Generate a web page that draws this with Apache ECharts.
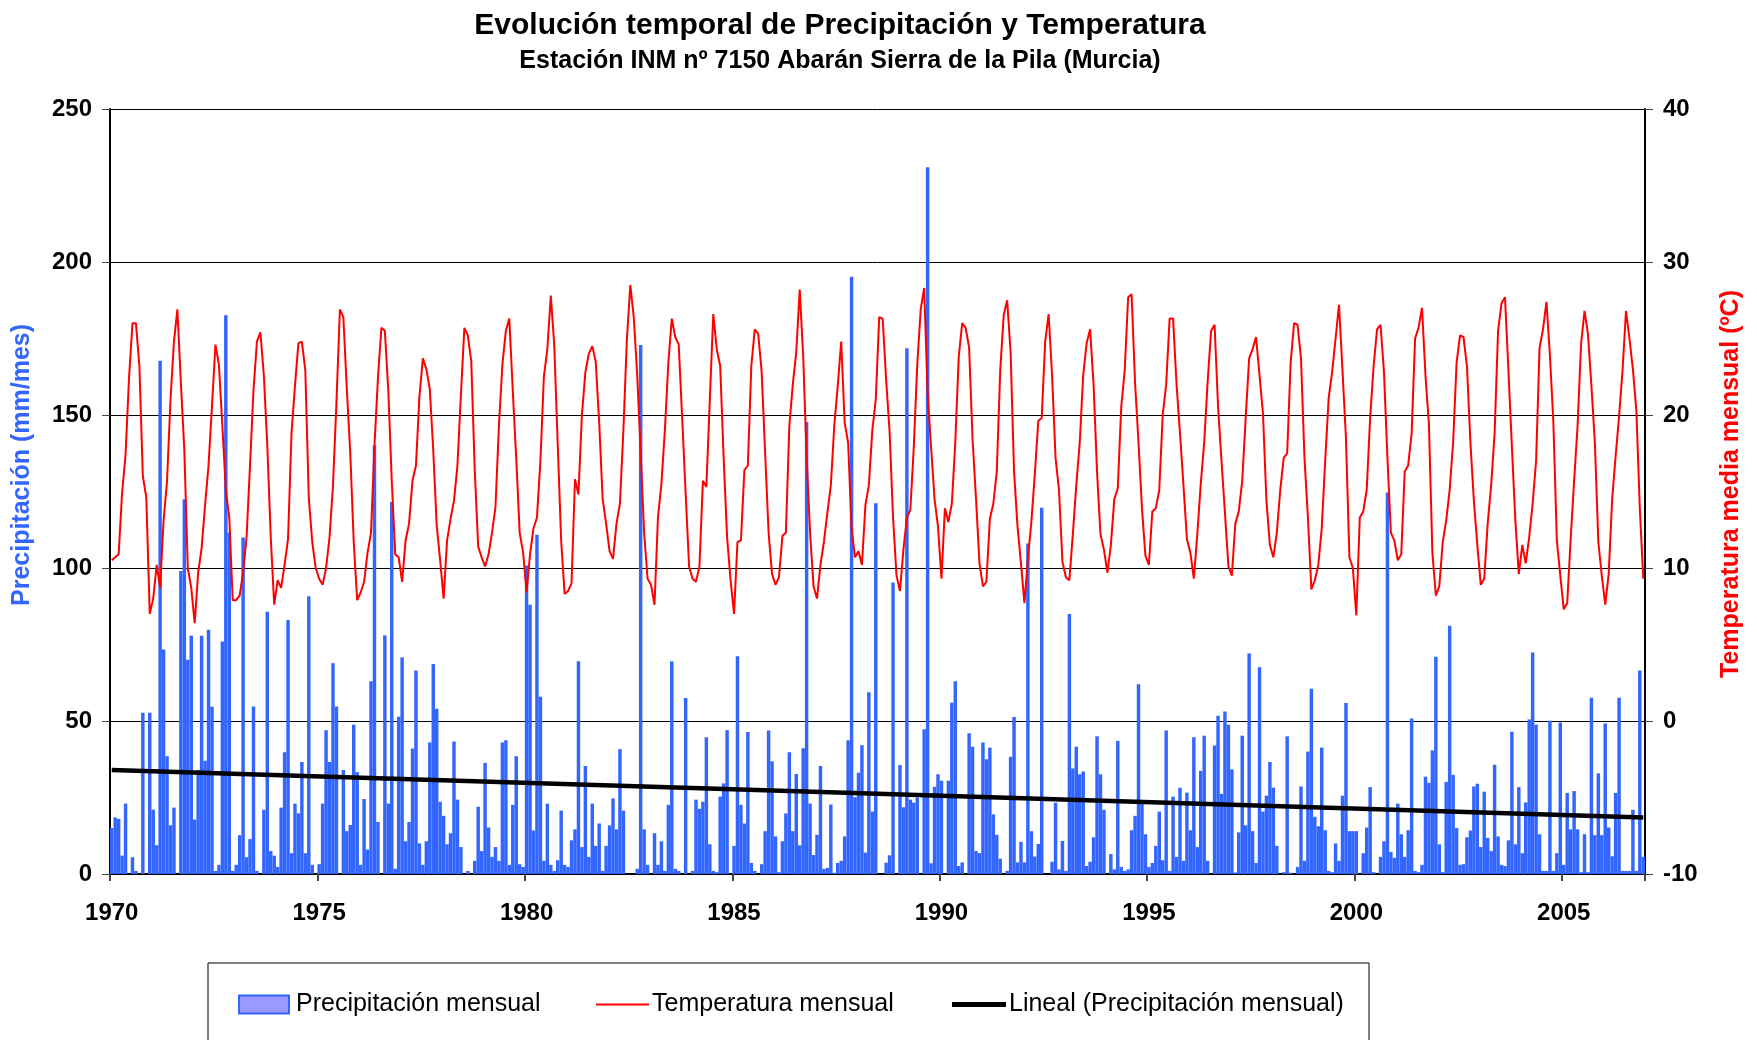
<!DOCTYPE html>
<html>
<head>
<meta charset="utf-8">
<script src="https://cdn.jsdelivr.net/npm/echarts@6/dist/echarts.min.js"></script>
<style>html,body{margin:0;padding:0;background:#fff}#chart{width:1757px;height:1040px}</style>
</head>
<body>
<div id="chart"></div>
<script>
// ---------------- DATA ----------------
const startYear = 1970;
const yearTickLabels = ['1970', '1975', '1980', '1985', '1990', '1995', '2000', '2005'];

// Monthly precipitation (mm/mes), Jan..Dec per row
const precip1970s = [
  15, 18.5, 18, 6, 23, 0, 5.5, 1, 0, 52.7, 0, 52.7,
  21, 9.4, 167.7, 73.4, 38.5, 15.9, 21.7, 0, 99, 122.5, 70, 77.9,
  17.8, 34, 77.9, 37, 79.8, 54.7, 1, 3, 76, 182.6, 111.5, 1,
  3, 12.7, 110, 5.5, 11.4, 54.7, 1, 0, 21, 85.7, 7.5, 6,
  2.3, 21.7, 39.8, 83, 6.8, 23, 19.8, 36.6, 6.8, 90.8, 3, 0,
  3.2, 23, 47, 36.6, 68.9, 54.7, 0, 34, 14, 16, 48.8, 33.3,
  3, 24.5, 8, 63, 140, 17, 0, 78, 23, 121.6, 1.7, 51.4,
  70.8, 10.7, 17, 41, 66.5, 10, 3, 10.7, 43, 68.6, 54, 23.6,
  19, 9.7, 13.3, 43.3, 24.3, 8.8, 0, 1, 0, 4.3, 22, 7.5,
  36.3, 15.2, 5.6, 8.8, 4.3, 43, 43.7, 3, 22.6, 38.5, 3.2, 2.3
];
const precip1980s = [
  100.8, 88, 14.2, 110.9, 57.9, 4.3, 23, 3, 1, 4.5, 20.7, 3,
  2.3, 11, 14.6, 69.5, 8.8, 35.3, 5.6, 23, 9.2, 16.5, 1, 9.2,
  15.9, 24.7, 14.6, 40.8, 20.7, 0, 0, 0, 1.7, 172.9, 14.6, 3,
  0, 13.3, 3, 10.7, 1, 22.6, 69.5, 1.7, 1, 0, 57.5, 0,
  1, 24.3, 21.3, 23.6, 44.7, 9.7, 1, 0.6, 25.3, 29.6, 47, 0,
  9.2, 71.2, 22.6, 16.5, 46.4, 3.6, 1, 0, 3.2, 14, 46.9, 36.8,
  12.3, 0.6, 10.7, 19.8, 39.8, 14, 32.7, 9.4, 41.1, 147.7, 23, 6.2,
  12.8, 35.3, 1.7, 2, 22.7, 0.4, 3.6, 4.3, 12.3, 43.7, 195.2, 25.1,
  33.1, 42.1, 7, 59.4, 20.4, 121.2, 0, 0, 3.7, 6.1, 95.3, 0,
  35.6, 21.8, 171.8, 24.3, 23.3, 25, 0, 47.3, 231, 3.5, 28.5, 32.6
];
const precip1990s = [
  30.5, 0, 30.5, 56, 63, 2.6, 3.8, 0, 46, 41.6, 7.5, 6.8,
  43, 37.5, 41.3, 19.5, 12.8, 5, 0, 1, 38.3, 51.3, 3.8, 10.5,
  3.8, 108, 14, 5.7, 9.8, 119.7, 0, 0, 4, 23.3, 1.5, 10.8,
  1, 85, 34.5, 41.6, 32.6, 33.5, 2.6, 4, 12, 45, 32.6, 21,
  0, 6.5, 1.5, 43.5, 2.3, 1, 1.5, 14.3, 19, 62, 23.2, 13,
  2.3, 3.6, 9.2, 20.4, 4.5, 46.9, 1, 25.3, 5.6, 28.2, 4.3, 26.6,
  14.3, 44.7, 8.8, 33.7, 45.2, 4.3, 0, 42, 51.7, 26.2, 53.1, 48.8,
  34.2, 0.5, 13.6, 45.2, 15.9, 72.1, 14, 3.6, 67.6, 20.4, 25.6, 36.6,
  28.2, 9.2, 0, 0.6, 45, 0.4, 0, 2.3, 28.6, 4.3, 40, 60.5,
  18.7, 15.6, 41.3, 14.3, 1, 0.6, 10, 4.3, 25.6, 55.9, 14, 14
];
const precip2000s = [
  14, 0, 6.8, 15.2, 28.4, 0.6, 0, 5.6, 10.7, 124.7, 7.2, 5.3,
  23, 13, 5.6, 14.3, 50.8, 1, 0.6, 3, 31.8, 29.8, 40.4, 71,
  9.7, 0.6, 30.1, 81.1, 32.4, 15, 3, 3.2, 12, 14.2, 28.6, 29.5,
  8.8, 26.9, 11.8, 7.5, 35.7, 12.3, 3, 2.6, 11, 46.5, 9.7, 28.4,
  6.8, 23.4, 50.5, 72.4, 48.8, 13, 1, 1, 50.1, 1, 6.8, 49.5,
  3, 26.5, 14.6, 27.1, 14.6, 0.6, 13, 0.6, 57.6, 12.7, 32.9, 12.7,
  49.2, 15.2, 5.8, 26.5, 57.6, 1, 1, 1, 21, 1, 66.5, 5.6
];

// Monthly mean temperature (ºC), Jan..Dec per row
const temp1970s = [
  10.5, 10.7, 10.9, 14.9, 17.4, 22.4, 26.0, 26.0, 23.2, 16.0, 14.6, 7.0,
  8.0, 10.2, 8.7, 13.1, 15.7, 21.0, 24.8, 26.9, 22.1, 17.7, 10.0, 8.7,
  6.4, 9.7, 11.3, 14.1, 16.7, 20.6, 24.6, 23.3, 19.3, 15.1, 13.3, 7.9,
  7.9, 8.2, 9.7, 12.0, 16.7, 21.6, 24.8, 25.4, 22.6, 18.0, 12.0, 7.6,
  9.2, 8.7, 10.2, 11.9, 18.8, 21.9, 24.7, 24.8, 22.9, 14.6, 11.7, 10.0,
  9.3, 8.9, 10.0, 12.0, 15.4, 20.8, 26.9, 26.4, 21.7, 17.5, 11.7, 7.9,
  8.4, 9.1, 11.0, 12.3, 18.0, 22.4, 25.7, 25.5, 21.6, 15.7, 10.9, 10.7,
  9.1, 11.8, 12.9, 15.7, 16.7, 21.2, 23.7, 23.0, 21.7, 17.7, 12.8, 10.5,
  8.0, 11.8, 13.2, 14.4, 16.7, 21.3, 25.7, 25.2, 23.5, 16.4, 11.4, 10.7,
  10.1, 10.9, 12.3, 14.0, 19.3, 23.3, 25.5, 26.3, 21.6, 17.2, 12.3, 11.0
];
const temp1980s = [
  8.4, 10.9, 12.6, 13.3, 17.0, 22.5, 24.3, 27.8, 24.6, 18.1, 11.8, 8.3,
  8.5, 9.0, 15.8, 14.8, 20.0, 22.8, 24.0, 24.5, 23.5, 19.5, 14.5, 12.9,
  11.1, 10.6, 12.9, 14.2, 19.0, 24.9, 28.5, 26.4, 22.6, 17.5, 12.3, 9.3,
  8.9, 7.6, 13.3, 15.5, 19.0, 23.4, 26.3, 25.1, 24.6, 19.8, 14.9, 10.1,
  9.3, 9.1, 10.1, 15.7, 15.3, 21.0, 26.6, 24.3, 23.2, 17.2, 12.0, 9.2,
  7.0, 11.7, 11.8, 16.4, 16.7, 23.2, 25.6, 25.3, 22.8, 17.5, 12.3, 9.6,
  8.9, 9.4, 12.1, 12.3, 19.3, 22.0, 24.1, 28.2, 23.9, 17.2, 12.3, 8.8,
  8.0, 10.2, 11.7, 13.6, 15.4, 19.3, 21.9, 24.8, 19.5, 18.2, 12.6, 10.7,
  11.1, 10.2, 14.1, 15.4, 19.0, 21.0, 26.4, 26.3, 22.3, 18.9, 13.3, 9.5,
  8.5, 11.2, 13.3, 13.8, 17.9, 23.3, 26.9, 28.3, 21.4, 17.9, 14.5, 12.7
];
const temp1990s = [
  9.3, 13.9, 13.0, 14.2, 18.2, 23.8, 26.0, 25.7, 24.4, 18.4, 14.5, 10.3,
  8.8, 9.1, 13.2, 14.2, 16.3, 22.9, 26.5, 27.5, 24.1, 16.3, 12.7, 10.3,
  7.7, 10.6, 13.0, 16.1, 19.6, 19.8, 24.8, 26.6, 22.6, 17.2, 15.1, 10.4,
  9.4, 9.2, 12.2, 15.4, 18.2, 22.6, 24.7, 25.6, 22.0, 16.3, 12.2, 11.2,
  9.7, 11.5, 14.5, 15.2, 20.5, 22.9, 27.7, 27.9, 22.1, 18.2, 13.9, 10.8,
  10.2, 13.7, 13.9, 15.1, 20.0, 22.0, 26.3, 26.3, 22.0, 18.8, 15.4, 11.9,
  11.0, 9.3, 12.2, 15.5, 18.2, 22.2, 25.5, 25.9, 20.6, 17.0, 13.6, 10.1,
  9.5, 12.9, 13.7, 15.7, 19.8, 23.7, 24.3, 25.1, 22.6, 20.1, 14.4, 11.5,
  10.7, 12.3, 15.1, 17.2, 17.5, 23.4, 26.0, 25.9, 23.7, 17.2, 13.3, 8.6,
  9.2, 10.2, 12.6, 17.0, 21.1, 22.8, 25.0, 27.2, 22.9, 18.5, 10.7, 10.0
];
const temp2000s = [
  6.9, 13.3, 13.7, 15.1, 19.8, 23.2, 25.6, 25.9, 22.8, 17.2, 12.3, 11.8,
  10.5, 10.9, 16.3, 16.7, 18.8, 25.0, 25.7, 27.0, 22.6, 19.4, 11.0, 8.2,
  8.8, 11.7, 13.1, 15.1, 18.2, 23.4, 25.2, 25.1, 23.2, 18.2, 14.4, 11.5,
  8.9, 9.3, 12.9, 15.4, 18.8, 25.5, 27.3, 27.7, 22.9, 17.9, 13.1, 9.6,
  11.5, 10.3, 12.0, 14.2, 17.0, 24.4, 25.6, 27.4, 23.9, 19.5, 11.8, 9.5,
  7.3, 7.7, 11.9, 15.7, 19.3, 24.6, 26.8, 25.3, 21.9, 18.2, 11.7, 9.5,
  7.6, 9.6, 14.5, 17.3, 19.9, 22.9, 26.8, 25.0, 23.0, 20.3, 13.9, 9.3
];

// Linear trend of monthly precipitation: value at first and last month (mm/mes)
const trendEnds = [34.0, 18.5];

// ---------------- BUILD ----------------
const precip = [].concat(precip1970s, precip1980s, precip1990s, precip2000s);
const temp = [].concat(temp1970s, temp1980s, temp1990s, temp2000s);
const months = [];
for (let k = 0; k < precip.length; k++) {
  const y = startYear + Math.floor(k / 12);
  const m = (k % 12) + 1;
  months.push(y + '-' + (m < 10 ? '0' + m : m));
}
const trendData = [[0, trendEnds[0]], [precip.length - 1, trendEnds[1]]];
const isTick = (i) => i % 60 === 0;

const tickFont = { fontFamily: 'Liberation Sans', fontWeight: 'bold', fontSize: 24, color: '#000' };
const legendText = { fontFamily: 'Liberation Sans', fontSize: 25, color: '#000' };

const chart = echarts.init(document.getElementById('chart'));
chart.setOption({
  animation: false,
  backgroundColor: '#ffffff',
  title: [
    { text: 'Evolución temporal de Precipitación y Temperatura', left: 835, top: 6, textAlign: 'center',
      textStyle: { fontFamily: 'Liberation Sans', fontWeight: 'bold', fontSize: 30, color: '#000' } },
    { text: 'Estación INM nº 7150 Abarán Sierra de la Pila (Murcia)', left: 835, top: 44, textAlign: 'center',
      textStyle: { fontFamily: 'Liberation Sans', fontWeight: 'bold', fontSize: 25, color: '#000' } }
  ],
  grid: { left: 110, right: 112, top: 109, bottom: 166, containLabel: false },
  xAxis: {
    type: 'category', data: months, boundaryGap: true,
    axisLine: { lineStyle: { color: '#000', width: 2 } },
    axisTick: { show: true, interval: isTick, length: 7, lineStyle: { color: '#444', width: 2 } },
    axisLabel: Object.assign({ interval: isTick, margin: 27,
      formatter: (v, i) => yearTickLabels[Math.round(i / 60)] }, tickFont),
    splitLine: { show: false }
  },
  yAxis: [
    { type: 'value', min: 0, max: 250, interval: 50, position: 'left',
      axisLine: { show: true, lineStyle: { color: '#000', width: 2 } },
      axisTick: { show: true, length: 8, lineStyle: { color: '#444', width: 1 } },
      axisLabel: Object.assign({ margin: 18 }, tickFont),
      splitLine: { show: true, lineStyle: { color: '#000', width: 1 } } },
    { type: 'value', min: -10, max: 40, interval: 10, position: 'right',
      axisLine: { show: true, lineStyle: { color: '#000', width: 2 } },
      axisTick: { show: true, length: 8, lineStyle: { color: '#444', width: 1 } },
      axisLabel: Object.assign({ margin: 18 }, tickFont),
      splitLine: { show: false } }
  ],
  legend: [
    { data: [{ name: 'Precipitación mensual', icon: 'rect',
        itemStyle: { color: '#9999ff', borderColor: '#3366ff', borderWidth: 2 } }],
      left: 238, top: 992, itemWidth: 50, itemHeight: 18, itemGap: 0, padding: 0, selectedMode: false,
      textStyle: Object.assign({ padding: [0, 0, 0, 2] }, legendText) },
    { data: [{ name: 'Temperatura mensual', icon: 'rect', itemStyle: { color: '#ff0000' } }],
      left: 596, top: 992, itemWidth: 53, itemHeight: 2, itemGap: 0, padding: 0, selectedMode: false,
      textStyle: Object.assign({ padding: [0, 0, 0, -2] }, legendText) },
    { data: [{ name: 'Lineal (Precipitación mensual)', icon: 'rect', itemStyle: { color: '#000' } }],
      left: 952, top: 992, itemWidth: 54, itemHeight: 5, itemGap: 0, padding: 0, selectedMode: false,
      textStyle: Object.assign({ padding: [0, 0, 0, -2] }, legendText) }
  ],
  graphic: [
    { type: 'rect', shape: { x: 208, y: 963, width: 1161, height: 140 },
      style: { fill: 'none', stroke: '#000', lineWidth: 1 }, silent: true },
    { type: 'text', x: 22, y: 465, rotation: Math.PI / 2, silent: true,
      style: { text: 'Precipitación (mm/mes)', fill: '#3366ff', fontFamily: 'Liberation Sans', fontWeight: 'bold',
        fontSize: 25, align: 'center', verticalAlign: 'middle' } },
    { type: 'text', x: 1731, y: 484, rotation: Math.PI / 2, silent: true,
      style: { text: 'Temperatura media mensual (ºC)', fill: '#ff0000', fontFamily: 'Liberation Sans', fontWeight: 'bold',
        fontSize: 25, align: 'center', verticalAlign: 'middle' } }
  ],
  series: [
    { name: 'Precipitación mensual', type: 'bar', yAxisIndex: 0, data: precip,
      barCategoryGap: '0%', itemStyle: { color: '#3366ff' }, z: 2, silent: true },
    { name: 'Temperatura mensual', type: 'line', yAxisIndex: 1, data: temp,
      symbol: 'none', lineStyle: { color: '#ff0000', width: 2 }, itemStyle: { color: '#ff0000' }, z: 4, silent: true },
    { name: 'Lineal (Precipitación mensual)', type: 'line', yAxisIndex: 0, data: trendData,
      symbol: 'none', lineStyle: { color: '#000', width: 4.5 }, itemStyle: { color: '#000' }, z: 3, silent: true }
  ]
});
</script>
</body>
</html>
